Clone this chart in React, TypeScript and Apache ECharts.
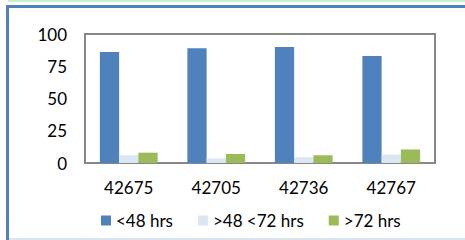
import React, { useEffect, useRef } from "react";
import * as echarts from "echarts";

const categories = ["42675", "42705", "42736", "42767"];
const seriesNames = ["<48 hrs", ">48 <72 hrs", ">72 hrs"];
const under48 = [86, 89, 90, 83];
const between48and72 = [6, 3.5, 4.5, 6.5];
const over72 = [8, 7, 6, 10.5];
const yTicks = { min: 0, max: 100, interval: 25 };

const colors = ["#4F81BD", "#DCE6F2", "#9BBB59"];
const FONT = "Lato";

export default function App() {
  const ref = useRef<HTMLDivElement>(null);
  useEffect(() => {
    if (!ref.current) return;
    const chart = echarts.init(ref.current, undefined, { renderer: "svg" });
    const data = [under48, between48and72, over72];
    chart.setOption({
      animation: false,
      backgroundColor: "#ffffff",
      textStyle: { fontFamily: FONT },
      graphic: [
        { type: "rect", shape: { x: 8, y: 0, width: 457, height: 2 }, style: { fill: "#C6EFCE" }, silent: true },
        { type: "rect", shape: { x: 6, y: 5, width: 459, height: 3 }, style: { fill: "#4F81BD" }, silent: true },
        { type: "rect", shape: { x: 6, y: 5, width: 3, height: 235 }, style: { fill: "#4F81BD" }, silent: true },
        { type: "rect", shape: { x: 9, y: 238, width: 456, height: 2 }, style: { fill: "#DCE6F2" }, silent: true },
      ],
      grid: {
        left: 85,
        top: 34,
        width: 350,
        height: 129,
        show: true,
        borderColor: "#878787",
        borderWidth: 2,
        containLabel: false,
      },
      legend: {
        left: 96,
        top: 207,
        itemWidth: 10,
        itemHeight: 10,
        itemGap: 25,
        icon: "rect",
        textStyle: { fontFamily: FONT, fontSize: 17, color: "#000" },
        data: seriesNames,
      },
      xAxis: {
        type: "category",
        data: categories,
        axisLine: { show: true, lineStyle: { color: "#878787", width: 2 } },
        axisTick: { show: false },
        axisLabel: { color: "#000", fontSize: 17, fontFamily: FONT, margin: 16 },
      },
      yAxis: {
        type: "value",
        min: yTicks.min,
        max: yTicks.max,
        interval: yTicks.interval,
        splitLine: { show: false },
        axisLine: { show: false },
        axisTick: { show: false },
        axisLabel: { color: "#000", fontSize: 17, fontFamily: FONT, margin: 18 },
      },
      series: seriesNames.map((name, i) => ({
        name,
        type: "bar",
        data: data[i],
        barGap: "0%",
        barCategoryGap: "34%",
        itemStyle: { color: colors[i] },
      })),
    });
    return () => chart.dispose();
  }, []);
  return <div ref={ref} style={{ width: 465, height: 240, position: "absolute", left: 0, top: 0 }} />;
}
